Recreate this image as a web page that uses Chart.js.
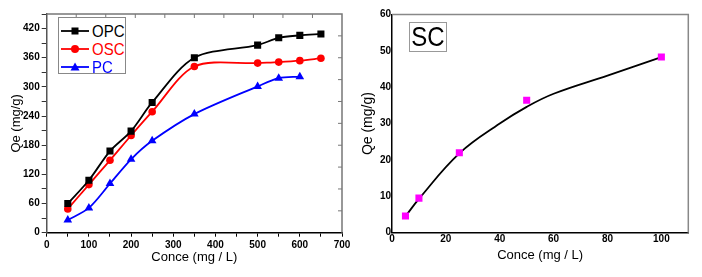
<!DOCTYPE html>
<html><head><meta charset="utf-8">
<script src="https://cdn.jsdelivr.net/npm/chart.js@4"></script>
<style>
html,body{margin:0;padding:0;background:#fff;}
#wrap{position:relative;width:702px;height:277px;overflow:hidden;font-family:"Liberation Sans",Arial,sans-serif;}
#c1{position:absolute;left:0;top:0;}
#c2{position:absolute;left:360px;top:0;}
.legend{position:absolute;left:58px;top:17px;width:68px;height:57px;border:1px solid #888;box-sizing:border-box;background:#fff;}
.row{position:absolute;left:0;width:66px;height:18px;}
.row svg{position:absolute;left:1px;top:3px;}
.row span{position:absolute;left:33px;top:0;font-size:15px;line-height:18px;display:inline-block;transform:scaleY(1.12);transform-origin:left center;}
.sc{position:absolute;left:409px;top:22px;width:38px;height:30px;border:1px solid #999;box-sizing:border-box;background:#fff;font-size:24px;line-height:28px;text-align:center;color:#000;}
.sc span{display:inline-block;transform:scaleY(1.12);}
</style>
</head><body>
<div id="wrap">
<canvas id="c1" width="360" height="277"></canvas>
<canvas id="c2" width="342" height="277"></canvas>
<div class="legend" id="leg"></div>
<div class="sc"><span id="scLabel"></span></div>
</div>
<script>
// ---- data ----
const concLeft = [50,100,150,200,250,350,500,550,600,650];
const opcQe    = [60,108,168,209,268,360,386,401,406,409];
const oscQe    = [49,99,149,200,249,342,349,351,354,359];
const concPC   = [50,100,150,200,250,350,500,550,600];
const pcQe     = [26,51,101,151,189,244,301,318,321];
const leftXTicks = [0,100,200,300,400,500,600,700];
const leftYTicks = [0,60,120,180,240,300,360,420];

const concSC = [5,10,25,50,100];
const scQe   = [4.6,9.5,22,36.4,48.3];
const fitConc = [5,10,25,40,50,60,80,100];
const fitQe   = [4.5,9.3,21.8,30,34.6,38.2,43.2,48.3];
const rightXTicks = [0,20,40,60,80,100];
const rightYTicks = [0,10,20,30,40,50,60];

const seriesNames = ['OPC','OSC','PC'];
const seriesColors = ['#000000','#ff0000','#0000ff'];
const seriesMarkers = ['rect','circle','triangle'];
const scName = 'SC';

Chart.defaults.font.family = "'Liberation Sans', Arial, sans-serif";
Chart.defaults.color = '#000';

const toXY = (xs, ys) => xs.map((x,i)=>({x:x,y:ys[i]}));

const framePlugin = {
  id:'frame',
  afterDraw(chart, args, opts){
    const {ctx, chartArea:{left,right,top,bottom}} = chart;
    const xs = chart.scales.x, ys = chart.scales.y;
    ctx.save();
    ctx.strokeStyle = opts.color || '#777';
    ctx.lineWidth = opts.width || 1.5;
    ctx.beginPath();
    ctx.moveTo(left, top);
    ctx.lineTo(right, top);
    ctx.lineTo(right, bottom);
    ctx.stroke();
    if (opts.divisions){
      const n = opts.divisions, len = opts.len || 4;
      ctx.lineWidth = 1;
      ctx.beginPath();
      for (let i=1;i<n;i++){
        const px = xs.getPixelForValue(xs.min + i*(xs.max-xs.min)/n);
        ctx.moveTo(px, top); ctx.lineTo(px, top+len);
        const py = ys.getPixelForValue(ys.min + i*(ys.max-ys.min)/n);
        ctx.moveTo(right, py); ctx.lineTo(right-len, py);
      }
      ctx.stroke();
    }
    ctx.restore();
  }
};

// ---------- left chart ----------
const leftSets = [toXY(concLeft,opcQe), toXY(concLeft,oscQe), toXY(concPC,pcQe)];
new Chart(document.getElementById('c1'), {
  type:'line',
  data:{datasets: leftSets.map((d,i)=>({
    label:seriesNames[i], data:d, borderColor:seriesColors[i], backgroundColor:seriesColors[i],
    borderWidth:1.8, pointStyle:seriesMarkers[i], pointRadius: i===1?3.8:5,
    pointBorderWidth:0, tension:0.3, fill:false
  }))},
  options:{
    responsive:false, animation:false, devicePixelRatio:1,
    layout:{padding:{top:14,right:18,left:0,bottom:0}},
    plugins:{legend:{display:false}, tooltip:{enabled:false}, frame:{color:'#777',width:1.5,divisions:10,len:4}},
    scales:{
      x:{type:'linear', min:0, max:700,
        ticks:{stepSize:50, autoSkip:false, maxRotation:0, padding:3, color:'#000', font:{size:10,weight:'bold'},
          callback:v=> leftXTicks.includes(v) ? String(v) : ''},
        grid:{drawOnChartArea:false, tickLength:4, tickColor:'#000'},
        border:{color:'#000', width:1.5},
        title:{display:true, text:'Conce (mg / L)', color:'#000', font:{size:13}, padding:{top:0,bottom:12}},
        afterFit(s){ s.height = 44.3; }
      },
      y:{type:'linear', min:0, max:450,
        ticks:{stepSize:30, autoSkip:false, padding:2, color:'#000', font:{size:10,weight:'bold'},
          callback:v=> leftYTicks.includes(v) ? String(v) : ''},
        grid:{drawOnChartArea:false, tickLength:5, tickColor:'#333'},
        border:{color:'#555', width:1.5},
        title:{display:true, text:'Qe (mg/g)', color:'#000', font:{size:13}, padding:{top:9,bottom:0}},
        afterFit(s){ s.width = 46.7; }
      }
    }
  },
  plugins:[framePlugin]
});

// ---------- right chart ----------
new Chart(document.getElementById('c2'), {
  type:'scatter',
  data:{datasets:[
    {label:scName+' fit', type:'line', data:toXY(fitConc,fitQe), borderColor:'#000', borderWidth:1.8,
     pointRadius:0, tension:0.4, fill:false, order:2},
    {label:scName, data:toXY(concSC,scQe), backgroundColor:'#ff00ff', borderColor:'#ff00ff',
     pointStyle:'rect', pointRadius:5, pointBorderWidth:0, showLine:false, order:1}
  ]},
  options:{
    responsive:false, animation:false, devicePixelRatio:1,
    layout:{padding:{top:14.5,right:13.7,left:0,bottom:0}},
    plugins:{legend:{display:false}, tooltip:{enabled:false}, frame:{color:'#888',width:1.5}},
    scales:{
      x:{type:'linear', min:0, max:110,
        ticks:{stepSize:20, autoSkip:false, maxRotation:0, padding:1, color:'#000', font:{size:10,weight:'bold'},
          callback:v=> rightXTicks.includes(v) ? String(v) : ''},
        grid:{drawOnChartArea:false, drawTicks:false},
        border:{color:'#000', width:1.5},
        title:{display:true, text:'Conce (mg / L)', color:'#000', font:{size:13}, padding:{top:0,bottom:14}},
        afterFit(s){ s.height = 44.3; }
      },
      y:{type:'linear', min:0, max:60,
        ticks:{stepSize:10, autoSkip:false, padding:1, color:'#000', font:{size:10,weight:'bold'},
          callback:v=> rightYTicks.includes(v) ? String(v) : ''},
        grid:{drawOnChartArea:false, drawTicks:false},
        border:{color:'#000', width:1.5},
        title:{display:true, text:'Qe (mg/g)', color:'#000', font:{size:14}, padding:{top:0,bottom:0}},
        afterFit(s){ s.width = 32; }
      }
    }
  },
  plugins:[framePlugin]
});

// ---------- HTML legend & label ----------
const leg = document.getElementById('leg');
const rowTops = [4,22,40];
seriesNames.forEach((name,i)=>{
  const c = seriesColors[i];
  let mk = '';
  if (seriesMarkers[i]==='rect') mk = `<rect x="11.5" y="2.5" width="7" height="7" fill="${c}"/>`;
  else if (seriesMarkers[i]==='circle') mk = `<circle cx="15" cy="6" r="4" fill="${c}"/>`;
  else mk = `<polygon points="15,1.5 19.5,9.5 10.5,9.5" fill="${c}"/>`;
  const row = document.createElement('div');
  row.className='row'; row.style.top = rowTops[i]+'px';
  row.innerHTML = `<svg width="30" height="12"><line x1="1" y1="6" x2="29" y2="6" stroke="${c}" stroke-width="1.8"/>${mk}</svg><span style="color:${c}">${name}</span>`;
  leg.appendChild(row);
});
document.getElementById('scLabel').textContent = scName;
</script>
</body></html>
